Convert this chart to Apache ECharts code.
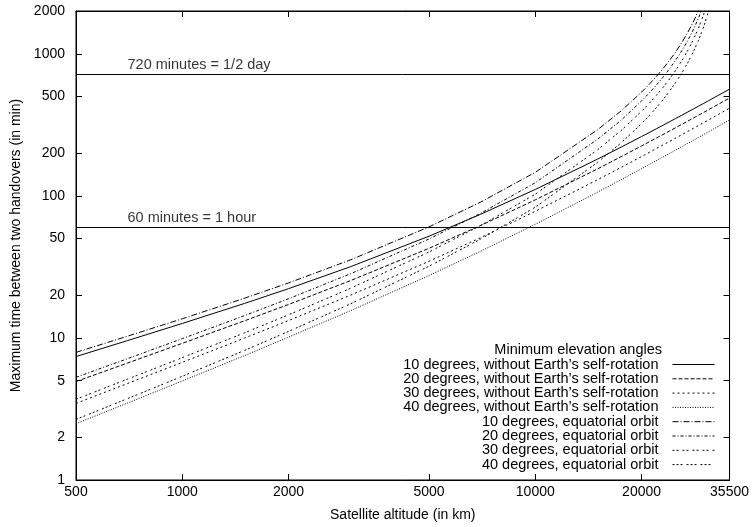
<!DOCTYPE html>
<html><head><meta charset="utf-8">
<script src="https://cdn.jsdelivr.net/npm/echarts@6/dist/echarts.min.js"></script>
<style>html,body{margin:0;padding:0;background:#fff}#c{width:752px;height:527px}</style>
</head><body><div id="c"></div>
<script>
// Satellite altitude (km)
const altitudes = [500, 700, 1000, 1500, 2000, 3000, 5000, 7000, 10000, 15000, 17500, 20000, 21000, 22000, 23000, 24000, 25000, 26000, 27000, 28000, 29000, 30000, 31000, 32000, 35500];
// Maximum time between two handovers (min)
const noRot10 = [7.39, 9.58, 12.64, 17.48, 22.21, 31.76, 51.99, 74.15, 110.96, 181.2, 220.2, 261.4, 278.6, 296.1, 313.9, 332.1, 350.6, 369.4, 388.6, 408.1, 427.8, 447.9, 468.3, 489.0, 563.6];
const noRot20 = [4.93, 6.66, 9.16, 13.19, 17.19, 25.34, 42.73, 61.86, 93.73, 154.7, 188.6, 224.5, 239.4, 254.7, 270.2, 286.0, 302.1, 318.5, 335.2, 352.2, 369.4, 386.9, 404.7, 422.7, 487.8];
const noRot30 = [3.46, 4.78, 6.73, 9.97, 13.25, 20.02, 34.63, 50.78, 77.82, 129.7, 158.5, 189.1, 201.9, 214.9, 228.1, 241.6, 255.4, 269.4, 283.6, 298.1, 312.8, 327.8, 343.0, 358.4, 414.0];
const noRot40 = [2.49, 3.48, 4.98, 7.50, 10.13, 15.57, 27.48, 40.75, 63.04, 106.0, 129.9, 155.2, 165.8, 176.6, 187.6, 198.8, 210.2, 221.8, 233.7, 245.7, 257.9, 270.3, 282.9, 295.7, 341.9];
const equ10 = [7.91, 10.29, 13.64, 19.02, 24.37, 35.48, 60.47, 90.29, 146.4, 291.5, 396, 536.7, 607.5, 689.4, 784.9, 897.8, 1033, 1198, 1404, 1668, 2016, 2499, 3200, null, null];
const equ20 = [5.28, 7.15, 9.88, 14.35, 18.86, 28.31, 49.70, 75.32, 123.7, 249.8, 340.6, 465.6, 527.7, 599.7, 683.9, 783.6, 903.4, 1050, 1233, 1469, 1782, 2219, 2857, null, null];
const equ30 = [3.70, 5.13, 7.26, 10.85, 14.54, 22.37, 40.28, 61.83, 102.7, 210.6, 288.3, 393.3, 446.3, 507.5, 579.3, 664.3, 766.6, 891.7, 1048, 1249, 1518, 1894, 2453, null, null];
const equ40 = [2.67, 3.74, 5.37, 8.16, 11.11, 17.39, 31.96, 49.62, 83.18, 171.9, 235.7, 322.1, 365.6, 416.0, 475.0, 544.9, 628.8, 731.5, 859.9, 1025, 1245, 1551, 2010, 2733, null];

const seriesNames = [
  "10 degrees, without Earth\u2019s self-rotation",
  "20 degrees, without Earth\u2019s self-rotation",
  "30 degrees, without Earth\u2019s self-rotation",
  "40 degrees, without Earth\u2019s self-rotation",
  "10 degrees, equatorial orbit",
  "20 degrees, equatorial orbit",
  "30 degrees, equatorial orbit",
  "40 degrees, equatorial orbit"
];
const seriesValues = [noRot10, noRot20, noRot30, noRot40, equ10, equ20, equ30, equ40];

const xTicks = [500, 1000, 2000, 5000, 10000, 20000, 35500];
const yTicks = [1, 2, 5, 10, 20, 50, 100, 200, 500, 1000, 2000];
const refLines = [720, 60];
const refLabels = ["720 minutes = 1/2 day", "60 minutes = 1 hour"];
const refLabelX = 702;
const legendTitle = "Minimum elevation angles";
const xName = "Satellite altitude (in km)";
const yName = "Maximum time between two handovers (in min)";

const FF = "'Liberation Sans', Arial, Helvetica, sans-serif";
const dashes = ['solid', [4, 2], [2, 3], [1, 1.5], [6, 2, 1, 2], [3, 2, 1, 2], [2, 2, 2, 4], [2, 2, 2, 2, 2, 4]];

function xAxisCfg(pos, main) {
  return {
    type: 'log', logBase: 10, min: 500, max: 35500, position: pos,
    name: main ? xName : '', nameLocation: 'middle', nameGap: 28,
    nameTextStyle: {fontSize: 14, color: '#000', fontFamily: FF},
    axisLine: {show: true, onZero: false, lineStyle: {color: '#000', width: 1}},
    axisTick: {show: true, inside: true, length: 6, customValues: xTicks, lineStyle: {color: '#000', width: 1}},
    axisLabel: {show: main, customValues: xTicks, formatter: v => String(v), margin: 5, fontSize: 14, color: '#000', fontFamily: FF, showMinLabel: true, showMaxLabel: true},
    splitLine: {show: false}, minorTick: {show: false}, minorSplitLine: {show: false}
  };
}
function yAxisCfg(pos, main) {
  return {
    type: 'log', logBase: 10, min: 1, max: 2000, position: pos,
    name: main ? yName : '', nameLocation: 'middle', nameGap: 50, nameRotate: 90,
    nameTextStyle: {fontSize: 14, color: '#000', fontFamily: FF},
    axisLine: {show: true, onZero: false, lineStyle: {color: '#000', width: 1}},
    axisTick: {show: true, inside: true, length: 6, customValues: yTicks, lineStyle: {color: '#000', width: 1}},
    axisLabel: {show: main, customValues: yTicks, formatter: v => String(v), margin: 11, fontSize: 14, color: '#000', fontFamily: FF, showMinLabel: true, showMaxLabel: true},
    splitLine: {show: false}, minorTick: {show: false}, minorSplitLine: {show: false}
  };
}

const series = seriesNames.map((name, k) => ({
  name: name, type: 'line', xAxisIndex: 0, yAxisIndex: 0,
  data: altitudes.map((a, i) => [a, seriesValues[k][i]]),
  symbol: 'none', showSymbol: false, smooth: false, clip: true,
  lineStyle: {color: '#000', width: 1, type: dashes[k]},
  itemStyle: {color: '#000'},
  emphasis: {disabled: true}
}));

series.push({
  name: 'ref', type: 'scatter', xAxisIndex: 0, yAxisIndex: 0,
  data: refLines.map((v, i) => ({value: [refLabelX, v], name: refLabels[i]})),
  symbolSize: 1, itemStyle: {color: 'transparent'},
  label: {show: true, position: [0, 0], align: 'left', verticalAlign: 'middle', offset: [0, -9],
    formatter: p => p.name, fontSize: 14.5, color: '#000', fontFamily: FF},
  markLine: {silent: true, symbol: ['none', 'none'], animation: false,
    lineStyle: {color: '#000', type: 'solid', width: 1},
    label: {show: false},
    data: refLines.map(v => ({yAxis: v}))},
  emphasis: {disabled: true}, silent: true
});

const chart = echarts.init(document.getElementById('c'), null, {renderer: 'canvas'});
chart.setOption({
  animation: false,
  backgroundColor: '#fff',
  grid: {left: 76, right: 20, top: 11, bottom: 46, show: true, borderColor: '#000', borderWidth: 1, backgroundColor: 'transparent'},
  title: {text: legendTitle, right: 90, top: 343, padding: 0,
    textStyle: {fontSize: 14.5, fontWeight: 'normal', color: '#000', fontFamily: FF, lineHeight: 14.3}},
  legend: {
    data: seriesNames, orient: 'vertical', align: 'right', right: 37, top: 357, padding: 0,
    itemWidth: 42, itemHeight: 10, itemGap: -0.7, selectedMode: false,
    itemStyle: {opacity: 0},
    lineStyle: {width: 1},
    textStyle: {fontSize: 14.5, color: '#000', fontFamily: FF, lineHeight: 14.3, padding: [0, 9, 0, 0]}
  },
  xAxis: [xAxisCfg('bottom', true), xAxisCfg('top', false)],
  yAxis: [yAxisCfg('left', true), yAxisCfg('right', false)],
  series: series
});
</script></body></html>
